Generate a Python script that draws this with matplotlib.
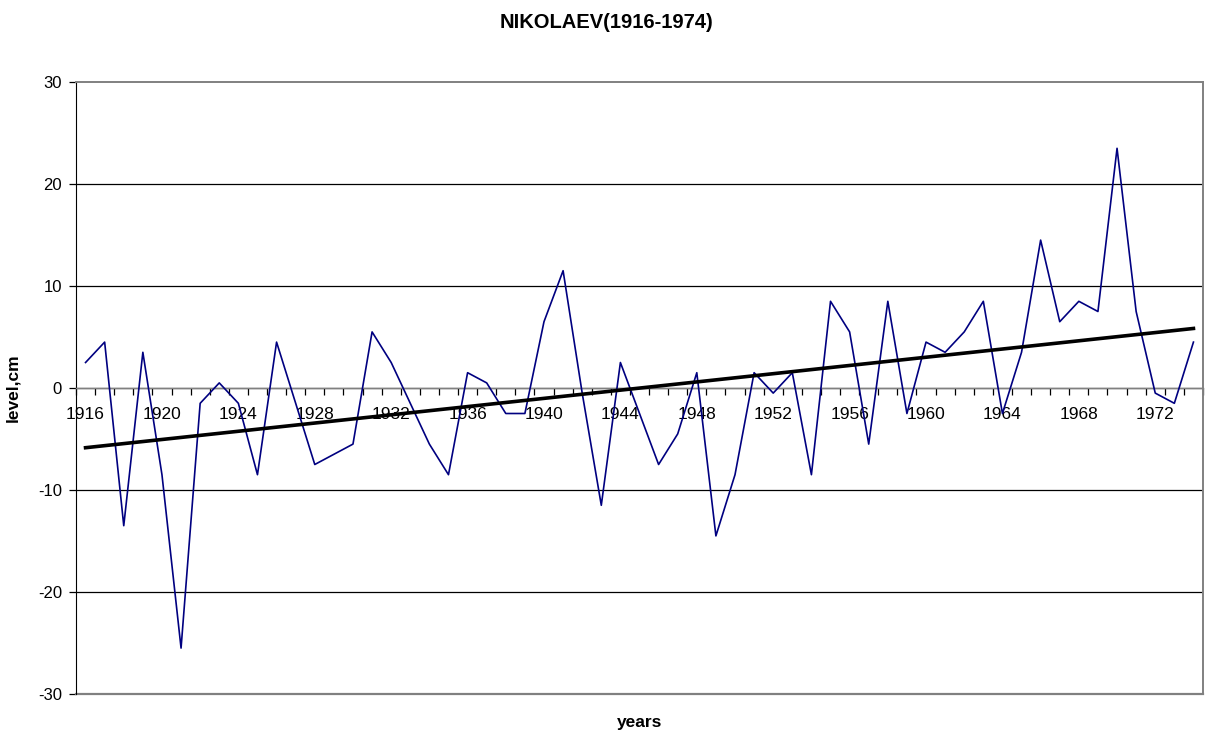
import numpy as np
import matplotlib
matplotlib.use("Agg")
import matplotlib.pyplot as plt
from matplotlib.ticker import FixedLocator, NullFormatter

# ------------------------------------------------------------------
# Annual mean sea level anomaly at Nikolaev, cm
years = list(range(1916, 1975))
level = [2.5, 4.5, -13.5, 3.5, -8.5, -25.5, -1.5, 0.5, -1.5, -8.5,
         4.5, -1.5, -7.5, -6.5, -5.5, 5.5, 2.5, -1.5, -5.5, -8.5,
         1.5, 0.5, -2.5, -2.5, 6.5, 11.5, -0.5, -11.5, 2.5, -2.5,
         -7.5, -4.5, 1.5, -14.5, -8.5, 1.5, -0.5, 1.5, -8.5, 8.5,
         5.5, -5.5, 8.5, -2.5, 4.5, 3.5, 5.5, 8.5, -2.5, 3.5,
         14.5, 6.5, 8.5, 7.5, 23.5, 7.5, -0.5, -1.5, 4.5]
label_years = years[::4]
y_ticks = [-30, -20, -10, 0, 10, 20, 30]
# ------------------------------------------------------------------

plt.rcParams["font.family"] = ["Liberation Sans", "DejaVu Sans"]

x = np.array(years, dtype=float)
y = np.array(level, dtype=float)

# Linear trend (least squares)
slope, icpt = np.polyfit(x, y, 1)
trend = slope * x + icpt

fig = plt.figure(figsize=(12.13, 7.37), dpi=100)
ax = fig.add_axes([76 / 1213, 1 - 694 / 737, (1203 - 76) / 1213, (694 - 82) / 737])

ax.plot(x, y, color="#000080", lw=1.2, zorder=3)
ax.plot(x, trend, color="black", lw=2.6, zorder=4)

ax.set_xlim(years[0] - 0.5, years[-1] + 0.5)
ax.set_ylim(-30, 30)

# Horizontal grid, gray frame at top and bottom
ax.set_yticks(y_ticks)
ax.set_yticklabels([str(v) for v in y_ticks], fontsize=12)
for v in y_ticks[1:-1]:
    ax.axhline(v, color="black", lw=0.9, zorder=1)
ax.axhline(-30, color="#808080", lw=1.6, zorder=2, clip_on=False)

# Category axis crossing at zero, ticks between years, labels every 4 years
ax.spines["bottom"].set_position(("data", 0))
ax.spines["bottom"].set_color("#808080")
ax.spines["bottom"].set_linewidth(1.0)
ax.spines["top"].set_color("#808080")
ax.spines["top"].set_linewidth(1.4)
ax.spines["right"].set_color("#808080")
ax.spines["right"].set_linewidth(1.4)
ax.spines["left"].set_color("black")
ax.xaxis.set_major_locator(FixedLocator([yr - 0.5 for yr in years] + [years[-1] + 0.5]))
ax.xaxis.set_major_formatter(NullFormatter())
ax.xaxis.set_minor_locator(FixedLocator(label_years))
ax.set_xticklabels([str(yr) for yr in label_years], minor=True, fontsize=12.5)
ax.tick_params(axis="x", which="major", direction="out", length=5, width=0.9, color="black")
ax.tick_params(axis="x", which="minor", length=0, pad=14)
ax.tick_params(axis="y", direction="out", length=5, width=0.9, pad=5)

# Title centred on the whole figure, not on the plot area
fig.text(0.5, 1 - 22 / 737, "NIKOLAEV(1916-1974)", fontsize=14.5, fontweight="bold",
         ha="center", va="center")
ax.set_ylabel("level,cm", fontsize=12.5, fontweight="bold", labelpad=13)
ax.set_xlabel("years", fontsize=12.5, fontweight="bold")
ax.xaxis.set_label_coords(0.5, -0.035)

fig.savefig("out.png", dpi=100)
